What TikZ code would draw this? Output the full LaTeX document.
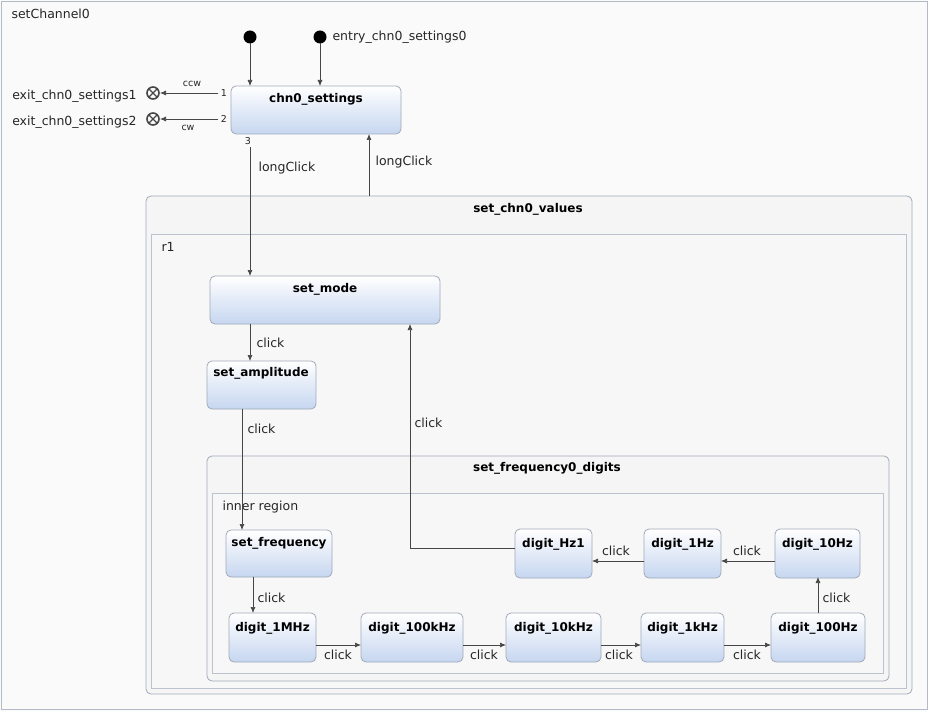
\documentclass[tikz,border=0pt]{standalone}
\usepackage{fontspec}
\setmainfont{DejaVu Sans}
\usetikzlibrary{arrows.meta}
\definecolor{bd}{RGB}{160,170,185}
\definecolor{lb}{RGB}{198,214,240}
\definecolor{ln}{RGB}{70,70,70}
\begin{document}
\begin{tikzpicture}[x=1pt,y=-1pt,
 st/.style={draw=bd,rounded corners=5pt,top color=white,bottom color=lb,line width=0.8pt},
 cont/.style={draw=bd,rounded corners=5pt,fill=white!96!black,line width=0.8pt},
 reg/.style={draw=bd!70,fill=white!97!black,line width=0.6pt},
 ttl/.style={font=\fontsize{12}{14}\selectfont\bfseries,anchor=center},
 lab/.style={font=\fontsize{12.5}{14}\selectfont,text=black!85},
 sm/.style={font=\fontsize{9.5}{11}\selectfont,text=black!85},
 tr/.style={draw=ln,line width=0.7pt,-{Latex[length=6pt,width=5pt]}}]
\useasboundingbox (0,0) rectangle (928,711);
\fill[white!98!black] (0,0) rectangle (928,711);
\draw[bd!80] (1,1) rectangle (927,709);
\node[lab,anchor=west] (t0) at (8,14) {setChannel0};
% top
\fill (250,37) circle (6.5) coordinate (i1);
\fill (320,37) circle (6.5) coordinate (i2);
\node[lab,anchor=west] (en) at (329,37) {entry\_chn0\_settings0};
\draw[st] (231,86) rectangle (401,134);
\node[ttl] (cs) at (316,99) {chn0\_settings};
\draw[tr] (i1) ++(0,6) -- (250,86);
\draw[tr] (i2) ++(0,6) -- (320,86);
\foreach \y/\n in {93/1,119/2}{
 \draw[line width=1.6pt,ln] (153,\y) circle (6);
 \draw[line width=1.4pt,ln] (153,\y) ++(-4.2,-4.2) -- ++(8.4,8.4) ++(0,-8.4) -- ++(-8.4,8.4);
 \draw[tr] (218,\y) -- (160,\y);
 \node[sm] at (224,\y) {\n};
}
\node[sm] (c3) at (248,141) {3};
\node[sm] at (192,84) {ccw};
\node[sm] at (188,128) {cw};
\node[lab,anchor=east] (x1) at (140,96) {exit\_chn0\_settings1};
\node[lab,anchor=east] (x2) at (140,122) {exit\_chn0\_settings2};
% container
\draw[cont] (146,196) rectangle (912,694);
\node[ttl] (cv) at (528,209) {set\_chn0\_values};
\draw[reg] (151,234) rectangle (906,688);
\node[lab,anchor=west] (r1) at (158,247) {r1};
\draw[st] (210,276) rectangle (440,324);
\node[ttl] (sm) at (325,289) {set\_mode};
\draw[st] (207,361) rectangle (316,409);
\node[ttl] (sa) at (261,373) {set\_amplitude};
\draw[cont] (207,456) rectangle (889,681);
\node[ttl] (sf) at (547,468) {set\_frequency0\_digits};
\draw[reg] (212,493) rectangle (883,673);
\node[lab,anchor=west] (ir) at (219,507) {inner region};
\draw[st] (226,530) rectangle (332,577); \node[ttl] at (279,543) {set\_frequency};
\foreach \a/\b/\c/\t in {229/316/613/digit\_1MHz,361/463/613/digit\_100kHz,506/601/613/digit\_10kHz,641/724/613/digit\_1kHz,771/865/613/digit\_100Hz,775/860/529/digit\_10Hz,644/721/529/digit\_1Hz,515/592/529/digit\_Hz1}{
 \draw[st] (\a,\c) rectangle (\b,\c+49);
 \node[ttl] at ({(\a+\b)/2},\c+15) {\t};
}
% transitions
\draw[tr] (250,147) -- (250,276);
\node[lab,anchor=west] at (255,168) {longClick};
\draw[tr] (369,196) -- (369,134);
\node[lab,anchor=west] at (372,162) {longClick};
\draw[tr] (250,324) -- (250,361);
\node[lab,anchor=west] at (253,343) {click};
\draw[tr] (242,409) -- (242,530);
\node[lab,anchor=west] at (244,429) {click};
\draw[tr] (253,577) -- (253,613);
\node[lab,anchor=west] at (254,598) {click};
\foreach \a/\b/\m in {316/361/338,463/506/484,601/641/619,724/771/747}{
 \draw[tr] (\a,645) -- (\b,645);
 \node[lab] at (\m,655) {click};
}
\draw[tr] (818,613) -- (818,577);
\node[lab,anchor=west] at (819,598) {click};
\draw[tr] (775,561) -- (721,561);
\node[lab] at (747,551) {click};
\draw[tr] (644,561) -- (592,561);
\node[lab] at (616,551) {click};
\draw[tr] (515,548) -- (410,548) -- (410,324);
\node[lab,anchor=west] at (411,423) {click};
\end{tikzpicture}
\end{document}
